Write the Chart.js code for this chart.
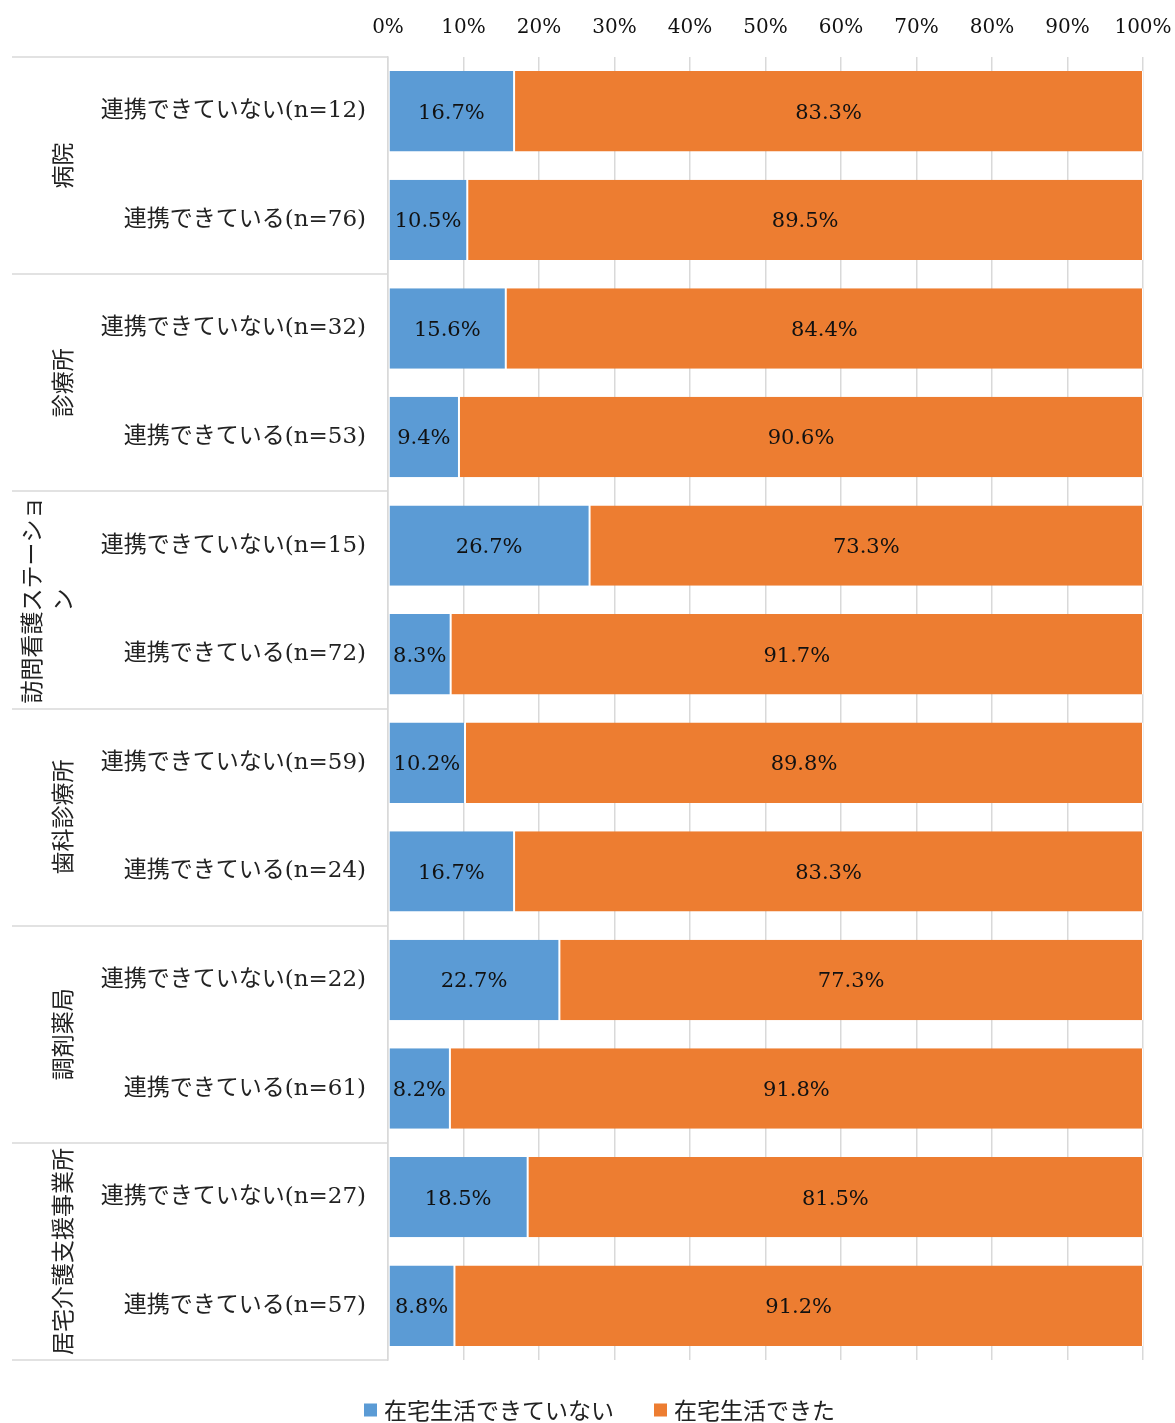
<!DOCTYPE html>
<html>
<head>
<meta charset="utf-8">
<script src="https://cdn.jsdelivr.net/npm/chart.js@4.4.1/dist/chart.umd.min.js"></script>
<style>
  html, body { margin: 0; padding: 0; background: #fff; overflow: hidden; }
  canvas { display: block; }
</style>
</head>
<body>
<canvas id="chart" width="1175" height="1423"></canvas>
<script>
// categories (two per facility type)
const groups = ["病院", "診療所", ["訪問看護ステーショ", "ン"], "歯科診療所", "調剤薬局", "居宅介護支援事業所"];
const rowLabels = [
    "連携できていない(n=12)", "連携できている(n=76)",
    "連携できていない(n=32)", "連携できている(n=53)",
    "連携できていない(n=15)", "連携できている(n=72)",
    "連携できていない(n=59)", "連携できている(n=24)",
    "連携できていない(n=22)", "連携できている(n=61)",
    "連携できていない(n=27)", "連携できている(n=57)"
];
const notHome = [16.7, 10.5, 15.6, 9.4, 26.7, 8.3, 10.2, 16.7, 22.7, 8.2, 18.5, 8.8];
const atHome = [83.3, 89.5, 84.4, 90.6, 73.3, 91.7, 89.8, 83.3, 77.3, 91.8, 81.5, 91.2];
const seriesNames = ["在宅生活できていない", "在宅生活できた"];
const tickValues = [0, 10, 20, 30, 40, 50, 60, 70, 80, 90, 100];

const NUM_FONT = '"DejaVu Serif", "Noto Sans CJK JP", serif';
const JP_FONT = '"Noto Sans CJK JP", sans-serif';
const GRID = "#d9d9d9";

// value labels in the middle of each segment
const valueLabels = {
    id: "valueLabels",
    afterDatasetsDraw(chart) {
        const ctx = chart.ctx;
        ctx.save();
        ctx.font = "21px " + NUM_FONT;
        ctx.fillStyle = "#111";
        ctx.textAlign = "center";
        ctx.textBaseline = "middle";
        chart.data.datasets.forEach((ds, i) => {
            chart.getDatasetMeta(i).data.forEach((bar, j) => {
                const p = bar.getProps(["x", "y", "base"], true);
                ctx.fillText(ds.data[j].toFixed(1) + "%", (p.x + p.base) / 2, p.y + 2);
            });
        });
        ctx.restore();
    }
};

// group labels + separator lines in the label area
const groupAxis = {
    id: "groupAxis",
    afterDraw(chart) {
        const ctx = chart.ctx;
        const y = chart.scales.y;
        const area = chart.chartArea;
        const band = y.getPixelForValue(1) - y.getPixelForValue(0);
        ctx.save();
        ctx.strokeStyle = GRID;
        ctx.lineWidth = 1.5;
        for (let g = 0; g <= groups.length; g++) {
            const yy = g < groups.length
                ? y.getPixelForValue(g * 2) - band / 2
                : y.getPixelForValue(g * 2 - 1) + band / 2;
            ctx.beginPath();
            ctx.moveTo(12, Math.round(yy));
            ctx.lineTo(area.left, Math.round(yy));
            ctx.stroke();
        }
        ctx.font = "23px " + JP_FONT;
        ctx.fillStyle = "#222";
        ctx.textAlign = "center";
        ctx.textBaseline = "middle";
        groups.forEach((g, i) => {
            const lines = Array.isArray(g) ? g : [g];
            const cy = (y.getPixelForValue(i * 2) + y.getPixelForValue(i * 2 + 1)) / 2;
            lines.forEach((line, k) => {
                const cx = 62 - (lines.length - 1 - k) * 31;
                ctx.save();
                ctx.translate(cx, cy);
                ctx.rotate(-Math.PI / 2);
                ctx.fillText(line, 0, 0);
                ctx.restore();
            });
        });
        ctx.restore();
    }
};

// legend drawn under the plot
const bottomLegend = {
    id: "bottomLegend",
    afterDraw(chart) {
        const ctx = chart.ctx;
        ctx.save();
        ctx.font = "23px " + JP_FONT;
        ctx.textBaseline = "middle";
        const box = 13, gap = 7, spacing = 40;
        const items = chart.data.datasets.map(ds => ({
            text: ds.label, color: ds.backgroundColor, w: box + gap + ctx.measureText(ds.label).width
        }));
        const total = items.reduce((s, it) => s + it.w, 0) + spacing * (items.length - 1);
        let x = chart.width / 2 + 12 - total / 2;
        const cy = 1410;
        items.forEach(it => {
            ctx.fillStyle = it.color;
            ctx.fillRect(x, cy - box / 2, box, box);
            ctx.fillStyle = "#222";
            ctx.fillText(it.text, x + box + gap, cy);
            x += it.w + spacing;
        });
        ctx.restore();
    }
};

new Chart(document.getElementById("chart"), {
    type: "bar",
    data: {
        labels: rowLabels,
        datasets: [
            { label: seriesNames[0], data: notHome, backgroundColor: "#5b9bd5" },
            { label: seriesNames[1], data: atHome, backgroundColor: "#ed7d31" }
        ]
    },
    options: {
        indexAxis: "y",
        responsive: false,
        animation: false,
        layout: { padding: { left: 0, right: 32, top: 0, bottom: 63 } },
        datasets: {
            bar: {
                barPercentage: 0.74,
                categoryPercentage: 1,
                borderWidth: { left: 1, right: 1, top: 0, bottom: 0 },
                borderColor: "#ffffff",
                borderSkipped: false
            }
        },
        plugins: {
            legend: { display: false },
            tooltip: { enabled: false }
        },
        scales: {
            x: {
                position: "top",
                stacked: true,
                min: 0,
                max: 100,
                afterBuildTicks: s => { s.ticks = tickValues.map(v => ({ value: v })); },
                afterFit: s => { s.height = 57; },
                grid: { color: GRID, lineWidth: 1.5, drawTicks: true, tickLength: 17, tickColor: "rgba(0,0,0,0)" },
                border: { display: false },
                ticks: {
                    padding: 0,
                    color: "#111",
                    font: { family: NUM_FONT, size: 20 },
                    callback: v => v + "%"
                }
            },
            y: {
                stacked: true,
                afterFit: s => { s.width = 388; },
                grid: { display: false, drawTicks: false },
                border: { display: true, color: GRID, width: 1.5 },
                ticks: {
                    padding: 22,
                    color: "#222",
                    font: { family: NUM_FONT, size: 23 }
                }
            }
        }
    },
    plugins: [valueLabels, groupAxis, bottomLegend]
});
</script>
</body>
</html>
